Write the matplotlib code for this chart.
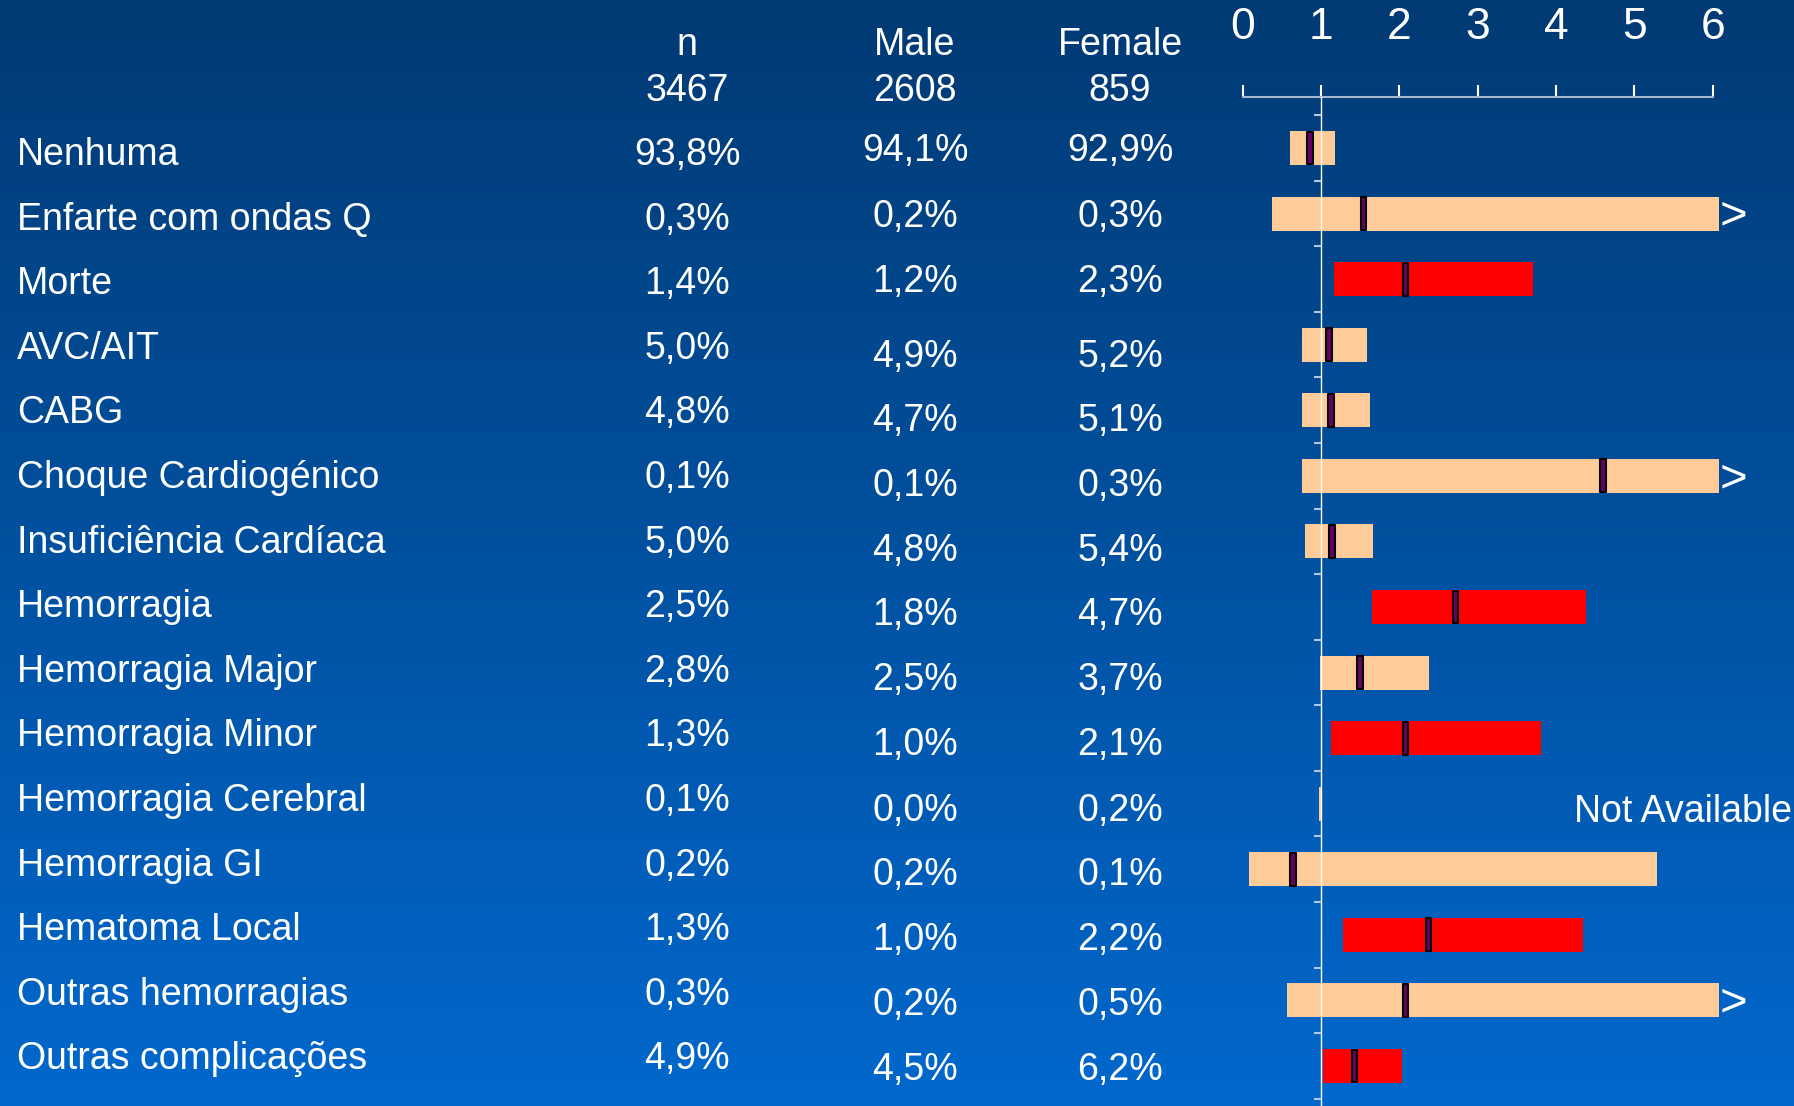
import numpy as np
import matplotlib
matplotlib.use("Agg")
import matplotlib.pyplot as plt
from matplotlib.colors import LinearSegmentedColormap

plt.rcParams['font.family'] = ['Liberation Sans', 'DejaVu Sans']

# table data
labels = ["Nenhuma", "Enfarte com ondas Q", "Morte", "AVC/AIT", "CABG",
          "Choque Cardiogénico", "Insuficiência Cardíaca", "Hemorragia",
          "Hemorragia Major", "Hemorragia Minor", "Hemorragia Cerebral",
          "Hemorragia GI", "Hematoma Local", "Outras hemorragias",
          "Outras complicações"]
n_total = ["93,8%", "0,3%", "1,4%", "5,0%", "4,8%", "0,1%", "5,0%", "2,5%",
           "2,8%", "1,3%", "0,1%", "0,2%", "1,3%", "0,3%", "4,9%"]
male = ["94,1%", "0,2%", "1,2%", "4,9%", "4,7%", "0,1%", "4,8%", "1,8%",
        "2,5%", "1,0%", "0,0%", "0,2%", "1,0%", "0,2%", "4,5%"]
female = ["92,9%", "0,3%", "2,3%", "5,2%", "5,1%", "0,3%", "5,4%", "4,7%",
          "3,7%", "2,1%", "0,2%", "0,1%", "2,2%", "0,5%", "6,2%"]
headers = [("n", "3467"), ("Male", "2608"), ("Female", "859")]

# odds ratio (female vs male) with confidence interval
or_point = [0.86, 1.54, 2.08, 1.10, 1.13, 4.60, 1.14, 2.72, 1.50, 2.08,
            np.nan, 0.64, 2.37, 2.08, 1.43]
ci_low = [0.60, 0.37, 1.17, 0.76, 0.76, 0.76, 0.79, 1.65, 0.99, 1.13,
          0.97, 0.08, 1.28, 0.57, 1.02]
ci_high = [1.18, 6.08, 3.71, 1.59, 1.63, 6.08, 1.66, 4.38, 2.38, 3.81,
           1.00, 5.29, 4.34, 6.08, 2.04]
significant = [False, False, True, False, False, False, False, True, False,
               True, False, False, True, False, True]
off_scale = [1, 5, 13]
not_available = 10

W, H = 1794, 1106
fig = plt.figure(figsize=(W / 100, H / 100), dpi=100)

# background gradient
bg = fig.add_axes([0, 0, 1, 1])
cmap = LinearSegmentedColormap.from_list("bg", ["#013a74", "#0268cd"])
grad = np.linspace(0, 1, 256).reshape(-1, 1)
bg.imshow(grad, aspect='auto', cmap=cmap, extent=[0, W, H, 0])
bg.set_xlim(0, W)
bg.set_ylim(H, 0)
bg.axis('off')

fs = 27
label_y = [155 + 64.6 * i for i in range(len(labels))]
sex_y = [151, 217, 282, 357, 421, 486, 551, 615, 680, 745, 811, 875, 940, 1005, 1070]
col_x = [687, 915, 1120]

for (h1, h2), x in zip(headers, col_x):
    bg.text(x, 45, h1, color='white', fontsize=fs, ha='center', va='center')
    bg.text(x, 91, h2, color='white', fontsize=fs, ha='center', va='center')

for i, lab in enumerate(labels):
    bg.text(17, label_y[i], lab, color='white', fontsize=fs, ha='left', va='center')
    bg.text(col_x[0], label_y[i], n_total[i], color='white', fontsize=fs,
            ha='center', va='center')
    bg.text(col_x[1], sex_y[i], male[i], color='white', fontsize=fs,
            ha='center', va='center')
    bg.text(col_x[2], sex_y[i], female[i], color='white', fontsize=fs,
            ha='center', va='center')

# forest plot axes
px_unit = 78.33
x0_px = 1242.7
axis_top_px = 97
row0_px, row_step = 148, 65.57
ax = fig.add_axes([x0_px / W, 0, 6 * px_unit / W, (H - axis_top_px) / H])
ax.patch.set_alpha(0)
ax.set_xlim(0, 6)
ax.set_ylim((H - row0_px) / row_step, -(row0_px - axis_top_px) / row_step)

rows = np.arange(len(labels))
lo = np.array(ci_low)
hi = np.array(ci_high)
colors = ['#ff0000' if s else '#ffcc99' for s in significant]
ax.barh(rows, hi - lo, left=lo, height=0.52, color=colors, clip_on=False, zorder=2)

ax.axvline(1, color='white', lw=1, zorder=3)
ax.hlines(rows - 0.5, 0.91, 1.0, color='#b0c8e8', lw=1.5, zorder=3)
ax.hlines(rows[-1] + 0.5, 0.91, 1.0, color='#b0c8e8', lw=1.5, zorder=3)

pts = np.array(or_point)
ok = ~np.isnan(pts)
ax.barh(rows[ok], 0.07, left=pts[ok] - 0.035, height=0.5, color='#660066',
        edgecolor='black', linewidth=1.5, joinstyle='round', zorder=4, clip_on=False)

for i in off_scale:
    ax.text(6.26, i + 0.05, '>', color='white', fontsize=34, ha='center', va='center')
ax.text(4.23, not_available + 0.12, 'Not Available', color='white', fontsize=fs,
        ha='left', va='center')

ax.xaxis.tick_top()
ax.set_xticks(range(7))
ax.set_yticks([])
ax.tick_params(axis='x', direction='out', length=9, width=1.5, color='white',
               pad=26, labelsize=32, labelcolor='white')
for side in ['left', 'right', 'bottom']:
    ax.spines[side].set_visible(False)
ax.spines['top'].set_color('#a8b8d0')
ax.spines['top'].set_linewidth(1.5)

fig.savefig("out.png", dpi=100)
